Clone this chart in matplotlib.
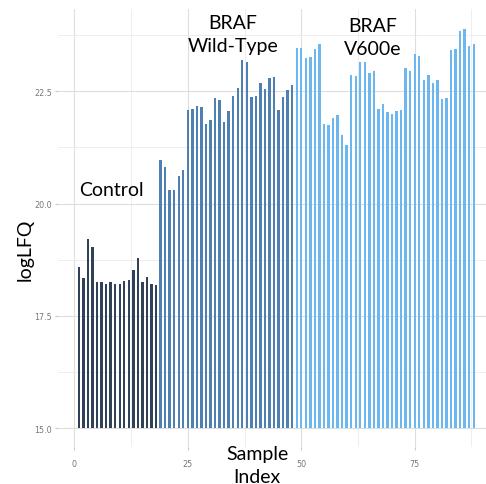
import matplotlib
matplotlib.use("Agg")
import matplotlib.pyplot as plt
import numpy as np

# ---- data ----
control_vals = [18.60, 18.34, 19.22, 19.03, 18.26, 18.25, 18.20, 18.26, 18.22,
                18.20, 18.27, 18.29, 18.53, 18.78, 18.26, 18.36, 18.20, 18.18]
wildtype_vals = [20.98, 20.82, 20.31, 20.31, 20.62, 20.75, 22.08, 22.11, 22.17,
                 22.16, 21.77, 21.85, 22.34, 22.31, 21.81, 22.07, 22.40, 22.58,
                 23.20, 23.15, 22.37, 22.40, 22.69, 22.55, 22.80, 22.82, 22.09,
                 22.38, 22.52, 22.63]
v600e_vals = [23.47, 23.46, 23.25, 23.26, 23.45, 23.55, 21.78, 21.74, 21.91,
              21.98, 21.53, 21.31, 22.87, 22.83, 23.15, 23.15, 22.91, 22.94,
              22.11, 22.21, 22.04, 22.00, 22.07, 22.08, 23.02, 22.95, 23.32,
              23.29, 22.74, 22.86, 22.69, 22.74, 22.33, 22.34, 23.42, 23.43,
              23.83, 23.89, 23.50, 23.55]
group_colors = ["#2f4259", "#4f80b2", "#6cb7f0"]
group_labels = ["Control", "BRAF\nWild-Type", "BRAF\nV600e"]
x_ticks = [0, 25, 50, 75]
y_ticks = [15.0, 17.5, 20.0, 22.5]
base = 15.0

W, H = 486, 485
fig = plt.figure(figsize=(W / 100, H / 100), dpi=100)
ax = fig.add_axes([58 / W, 1 - 448 / H, (486 - 58) / W, (448 - 10) / H])

start = 1
for vals, col in zip([control_vals, wildtype_vals, v600e_vals], group_colors):
    idx = np.arange(start, start + len(vals))
    ax.bar(idx, np.array(vals) - base, bottom=base, width=0.52, color=col,
           linewidth=0, zorder=3)
    start += len(vals)

ax.set_xlim(-3.6, 90.7)
ax.set_ylim(14.584, 24.33)
ax.set_xticks(x_ticks)
ax.set_xticklabels([str(t) for t in x_ticks])
ax.set_yticks(y_ticks)
ax.set_yticklabels([f"{t:.1f}" for t in y_ticks])
ax.set_xticks([12.5, 37.5, 62.5, 87.5], minor=True)
ax.set_yticks([16.25, 18.75, 21.25, 23.75], minor=True)
ax.grid(which="major", color="#dedede", linewidth=0.8, zorder=0)
ax.grid(which="minor", color="#ebebeb", linewidth=0.6, zorder=0)
ax.tick_params(which="both", length=2.5, color="#cccccc", labelsize=5.8,
               labelcolor="#777777", pad=2)
ax.tick_params(which="minor", length=0)
ax.tick_params(axis="x", pad=6)
for s in ax.spines.values():
    s.set_visible(False)

font = "Lato"
fig.text(25 / W, 1 - 250 / H, "logLFQ", rotation=90, ha="center", va="center",
         fontsize=14, family=font)
fig.text(257 / W, 1 - 466 / H, "Sample\nIndex", ha="center", va="center",
         fontsize=14, family=font, linespacing=1.45)
fig.text(111 / W, 1 - 191 / H, group_labels[0], ha="center", va="center",
         fontsize=14, family=font)
fig.text(233 / W, 1 - 35 / H, group_labels[1], ha="center", va="center",
         fontsize=14, family=font, linespacing=1.45)
fig.text(373 / W, 1 - 38 / H, group_labels[2], ha="center", va="center",
         fontsize=14, family=font, linespacing=1.45)

fig.savefig("out.png", dpi=100, facecolor="white")
